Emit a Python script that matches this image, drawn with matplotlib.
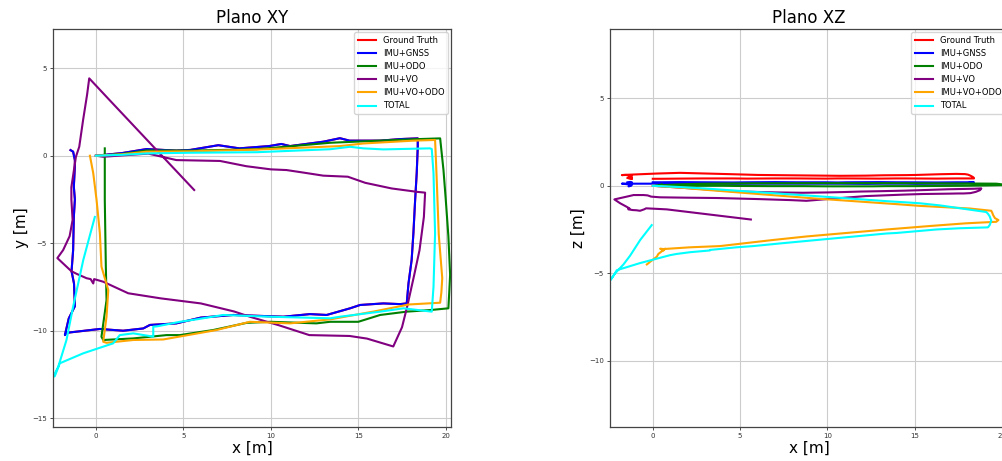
import matplotlib
matplotlib.use("Agg")
import matplotlib.pyplot as plt

# IMU+GNSS
gnss_x = [0.0, 0.5, 1.5, 2.9, 4.6, 5.4, 7.0, 8.2, 9.9, 10.6, 11.1, 13.0, 13.95, 14.5, 16.25, 17.4, 18.4,
          18.4, 18.34, 18.25, 18.15, 18.05, 17.87, 17.77,
          17.39, 16.43, 15.1, 14.53, 13.19, 12.24, 10.72, 7.86, 6.0, 4.6, 3.09, 2.71, 1.56, 0.23, -1.68,
          -1.77, -1.55, -1.2, -1.25, -1.39, -1.3, -1.26, -1.2, -1.26, -1.2, -1.2, -1.3, -1.45]
gnss_y = [0.0, 0.05, 0.15, 0.38, 0.29, 0.33, 0.6, 0.42, 0.55, 0.67, 0.55, 0.8, 1.0, 0.86, 0.86, 0.95, 0.99,
          0.5, -1.0, -2.53, -4.44, -5.96, -7.3, -8.44,
          -8.48, -8.44, -8.53, -8.72, -9.1, -9.05, -9.2, -9.1, -9.25, -9.58, -9.67, -9.87, -10.0, -9.9, -10.12,
          -10.25, -9.3, -8.6, -7.3, -6.6, -5.4, -3.5, -2.5, -1.77, -0.6, -0.25, 0.23, 0.32]
gnss_z = [0.2, 0.2, 0.21, 0.2, 0.19, 0.2, 0.21, 0.2, 0.2, 0.19, 0.2, 0.21, 0.2, 0.2, 0.19, 0.2, 0.2,
          0.2, 0.19, 0.18, 0.17, 0.16, 0.14, 0.13,
          0.12, 0.12, 0.11, 0.12, 0.12, 0.11, 0.12, 0.12, 0.12, 0.11, 0.12, 0.12, 0.12, 0.12, 0.12,
          0.12, 0.1, 0.05, 0.0, -0.03, 0.0, 0.05, 0.1, 0.15, 0.18, 0.2, 0.22, 0.2]

# Ground truth (in XY it lies under IMU+GNSS)
gt_x = list(gnss_x)
gt_y = list(gnss_y)
gt_z = [0.4, 0.4, 0.41, 0.42, 0.42, 0.41, 0.42, 0.42, 0.41, 0.42, 0.42, 0.41, 0.42, 0.42, 0.41, 0.42, 0.42,
        0.45, 0.5, 0.55, 0.6, 0.64, 0.67, 0.67,
        0.68, 0.66, 0.62, 0.61, 0.6, 0.58, 0.57, 0.6, 0.62, 0.66, 0.7, 0.71, 0.74, 0.7, 0.62,
        0.61, 0.62, 0.6, 0.55, 0.5, 0.48, 0.45, 0.4, 0.45, 0.5, 0.45, 0.4, 0.45]

# IMU+ODO
odo_x = [0.2, 1.5, 2.9, 5.4, 9.2, 13.4, 16.0, 18.15, 19.68,
         19.87, 20.0, 20.15, 20.25, 20.2, 20.15,
         19.1, 17.77, 16.25, 15.0, 13.39, 12.6, 10.0, 8.62, 6.71, 4.8, 4.04, 2.14, 0.42,
         0.32, 0.61, 0.57, 0.51, 0.51, 0.51]
odo_y = [0.0, 0.1, 0.3, 0.29, 0.37, 0.74, 0.85, 0.94, 0.99,
         -0.82, -2.5, -4.6, -6.8, -7.8, -8.72,
         -8.82, -8.91, -9.1, -9.49, -9.49, -9.58, -9.49, -9.55, -9.96, -10.25, -10.25, -10.44, -10.53,
         -10.34, -8.25, -6.34, -2.53, -0.06, 0.42]
odo_z = [0.02, 0.08, 0.12, 0.14, 0.15, 0.15, 0.14, 0.13, 0.12,
         0.1, 0.08, 0.07, 0.06, 0.05, 0.04,
         0.02, 0.0, -0.01, -0.02, -0.02, -0.03, -0.03, -0.02, -0.02, -0.01, 0.0, 0.0, 0.0,
         0.0, 0.01, 0.02, 0.04, 0.06, 0.08]

# IMU+VO
vo_x = [0.0, 0.42, 3.0, 4.6, 7.1, 8.6, 10.0, 10.9, 11.9, 13.0, 14.4, 15.4, 16.9, 18.4, 18.82,
        18.75, 18.5, 18.2, 17.8, 17.5, 17.0,
        15.5, 14.5, 12.2, 10.5, 8.8, 7.9, 6.0, 3.7, 1.85, 0.42, -0.1, -0.15, -0.3, -0.53, -1.1, -1.4, -2.2,
        -1.87, -1.5, -1.33, -1.4, -1.4, -1.14, -0.95, -0.73, -0.5, -0.38,
        0.8, 2.71, 5.62]
vo_y = [0.0, -0.06, 0.12, -0.25, -0.3, -0.6, -0.78, -0.82, -0.97, -1.14, -1.2, -1.55, -1.87, -2.07, -2.11,
        -3.5, -5.4, -6.8, -8.6, -9.8, -10.9,
        -10.45, -10.3, -10.25, -9.7, -9.2, -8.9, -8.44, -8.15, -7.86, -7.2, -7.05, -7.3, -7.05, -7.0, -6.75, -6.6, -5.85,
        -5.39, -4.6, -3.67, -2.5, -1.8, -0.06, 0.51, 2.04, 3.5, 4.42,
        3.16, 1.13, -1.96]
vo_z = [0.0, -0.03, -0.2, -0.32, -0.38, -0.4, -0.38, -0.36, -0.33, -0.31, -0.28, -0.25, -0.2, -0.17, -0.15,
        -0.25, -0.35, -0.42, -0.44, -0.44, -0.45,
        -0.47, -0.5, -0.59, -0.72, -0.86, -0.82, -0.76, -0.7, -0.68, -0.66, -0.62, -0.6, -0.55, -0.53, -0.53, -0.6, -0.78,
        -1.0, -1.2, -1.3, -1.32, -1.35, -1.39, -1.4, -1.43, -1.35, -1.29,
        -1.35, -1.58, -1.93]

# IMU+VO+ODO
vo_odo_x = [0.0, 1.5, 2.9, 5.4, 9.2, 13.96, 15.3, 18.15, 19.39,
            19.45, 19.5, 19.6, 19.8, 19.75, 19.68,
            17.9, 15.9, 13.4, 11.1, 8.8, 6.9, 3.85, 2.14, 0.61, 0.42,
            0.61, 0.71, 0.32, 0.23, 0.04, -0.15, -0.34]
vo_odo_y = [0.0, 0.08, 0.23, 0.25, 0.35, 0.55, 0.7, 0.86, 0.9,
            -0.5, -1.8, -4.5, -7.0, -7.8, -8.4,
            -8.5, -8.9, -9.35, -9.58, -9.49, -9.96, -10.5, -10.53, -10.69, -10.63,
            -9.2, -7.68, -6.34, -4.44, -2.53, -1.0, 0.0]
vo_odo_z = [0.0, -0.1, -0.22, -0.42, -0.72, -1.05, -1.15, -1.3, -1.43,
            -1.55, -1.68, -1.85, -1.96, -2.0, -2.06,
            -2.15, -2.3, -2.5, -2.7, -2.9, -3.1, -3.45, -3.52, -3.62, -3.6,
            -3.7, -3.6, -3.9, -4.06, -4.2, -4.35, -4.5]

# TOTAL
total_x = [0.0, 1.5, 2.9, 5.4, 9.2, 13.39, 14.53, 15.29, 16.43, 19.1, 19.2,
           19.3, 19.39, 19.3, 19.2,
           17.58, 16.25, 13.96, 13.39, 9.95, 7.28, 5.76, 4.8, 3.5, 3.28, 3.28, 2.14, 1.37, 0.99,
           -0.72, -2.06, -2.35, -2.44, -2.15, -1.68, -1.3, -0.72, -0.06]
total_y = [0.0, 0.05, 0.13, 0.17, 0.2, 0.37, 0.51, 0.42, 0.36, 0.42, 0.38,
           -1.0, -4.44, -7.49, -8.91,
           -8.72, -8.91, -9.2, -9.29, -9.2, -9.1, -9.35, -9.49, -9.75, -9.77, -10.34, -10.15, -10.25, -10.72,
           -11.29, -11.86, -12.6, -12.63, -12.06, -10.53, -8.63, -5.96, -3.5]
total_z = [0.0, -0.07, -0.15, -0.32, -0.58, -0.88, -0.95, -1.0, -1.12, -1.5, -1.6,
           -1.75, -2.0, -2.25, -2.38,
           -2.43, -2.5, -2.7, -2.73, -3.05, -3.3, -3.45, -3.52, -3.65, -3.67, -3.7, -3.8, -3.9, -3.97,
           -4.42, -4.83, -5.3, -5.4, -5.0, -4.5, -4.0, -3.1, -2.25]

series = [
    ("Ground Truth", "red", gt_x, gt_y, gt_z),
    ("IMU+GNSS", "blue", gnss_x, gnss_y, gnss_z),
    ("IMU+ODO", "green", odo_x, odo_y, odo_z),
    ("IMU+VO", "purple", vo_x, vo_y, vo_z),
    ("IMU+VO+ODO", "orange", vo_odo_x, vo_odo_y, vo_odo_z),
    ("TOTAL", "cyan", total_x, total_y, total_z),
]

fig = plt.figure(figsize=(10.02, 4.61), dpi=100)
ax_xy = fig.add_axes([0.0529, 0.0738, 0.3972, 0.8633])
ax_xz = fig.add_axes([0.6088, 0.0738, 0.3972, 0.8633])

for label, color, x, y, z in series:
    ax_xy.plot(x, y, color=color, lw=1.5, label=label)
    ax_xz.plot(x, z, color=color, lw=1.5, label=label)

ax_xy.set_xlim(-2.45, 20.3)
ax_xy.set_ylim(-15.5, 7.24)
ax_xy.set_yticks([-15, -10, -5, 0, 5])
ax_xy.set_title("Plano XY", fontsize=12, pad=4)
ax_xy.set_ylabel("y [m]", fontsize=11, labelpad=2)

ax_xz.set_xlim(-2.45, 20.35)
ax_xz.set_ylim(-13.8, 8.97)
ax_xz.set_yticks([-10, -5, 0, 5])
ax_xz.set_title("Plano XZ", fontsize=12, pad=4)
ax_xz.set_ylabel("z [m]", fontsize=11, labelpad=2)

for ax in (ax_xy, ax_xz):
    ax.set_xticks([0, 5, 10, 15, 20])
    ax.set_xlabel("x [m]", fontsize=11, labelpad=1)
    ax.tick_params(labelsize=5, length=2.5, width=0.6, pad=2, colors="#333333")
    ax.grid(True, color="#cccccc", lw=0.8)
    ax.set_axisbelow(True)
    for sp in ax.spines.values():
        sp.set_color("#444444")
        sp.set_linewidth(0.9)
    ax.legend(loc="upper right", fontsize=6, borderaxespad=0.4, handlelength=2.2)

fig.savefig("out.png", dpi=100)
